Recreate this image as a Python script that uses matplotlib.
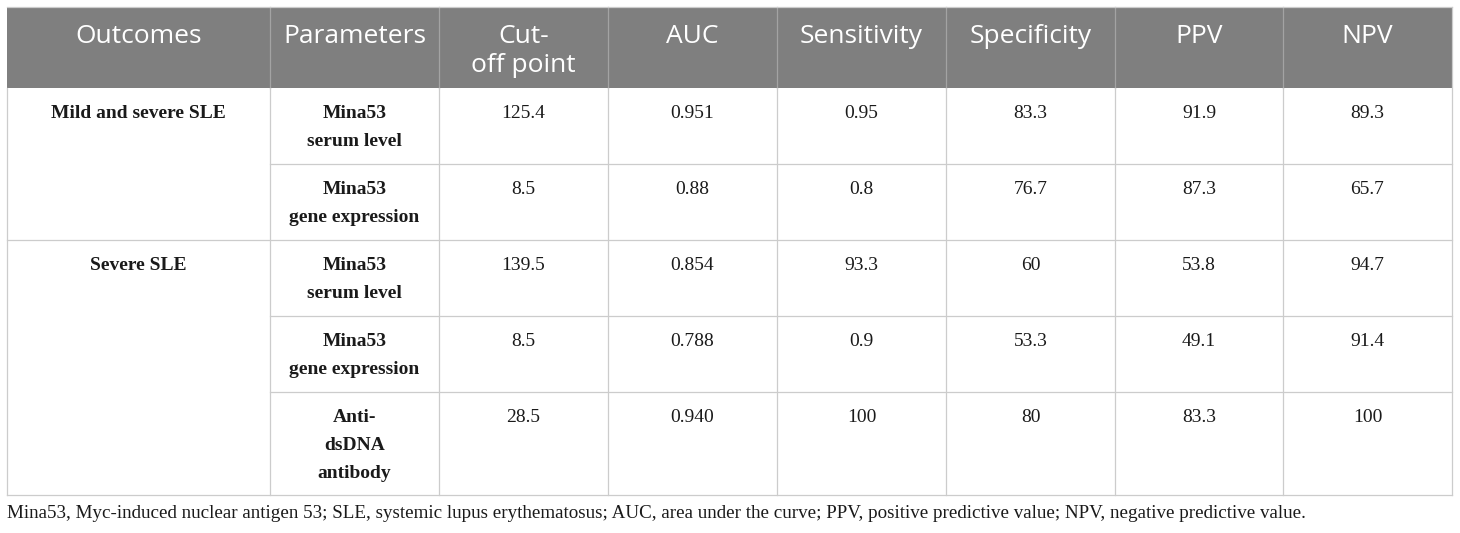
import matplotlib
matplotlib.use('Agg')
import matplotlib.pyplot as plt
from matplotlib.patches import Rectangle

# table content
headers = ['Outcomes', 'Parameters', 'Cut-\noff point', 'AUC', 'Sensitivity',
           'Specificity', 'PPV', 'NPV']
outcomes = ['Mild and severe SLE', 'Severe SLE']
outcome_rows = [(0, 2), (2, 5)]          # first row, end row of each group
parameters = ['Mina53\nserum level', 'Mina53\ngene expression',
              'Mina53\nserum level', 'Mina53\ngene expression',
              'Anti-\ndsDNA\nantibody']
cutoff = ['125.4', '8.5', '139.5', '8.5', '28.5']
auc = ['0.951', '0.88', '0.854', '0.788', '0.940']
sensitivity = ['0.95', '0.8', '93.3', '0.9', '100']
specificity = ['83.3', '76.7', '60', '53.3', '80']
ppv = ['91.9', '87.3', '53.8', '49.1', '83.3']
npv = ['89.3', '65.7', '94.7', '91.4', '100']
footnote = ('Mina53, Myc-induced nuclear antigen 53; SLE, systemic lupus erythematosus; '
            'AUC, area under the curve; PPV, positive predictive value; '
            'NPV, negative predictive value.')

# layout (pixels)
W, H = 1460, 533
col_edges = [7, 270, 439, 608, 777, 946, 1115, 1283, 1452]
row_edges = [7, 88, 164, 240, 316, 392, 495]
header_bg = '#7f7f7f'
line_col = '#cccccc'
sep_col = '#a3a3a3'
line_gap = 28

fig = plt.figure(figsize=(W / 100, H / 100), dpi=100)
ax = fig.add_axes([0, 0, 1, 1])
ax.set_xlim(0, W)
ax.set_ylim(H, 0)
ax.axis('off')


def put(x, top, txt, base, gap, **kw):
    for i, line in enumerate(txt.split('\n')):
        ax.text(x, top + base + i * gap, line, ha='center', va='baseline', **kw)


cx = [(col_edges[i] + col_edges[i + 1]) / 2 for i in range(len(col_edges) - 1)]

# header
ax.add_patch(Rectangle((col_edges[0], row_edges[0]), col_edges[-1] - col_edges[0],
                       row_edges[1] - row_edges[0], facecolor=header_bg,
                       edgecolor='none', zorder=1))
for x in col_edges[1:-1]:
    ax.plot([x, x], [row_edges[0], row_edges[1]], color=sep_col, lw=0.9, zorder=2)
ax.plot([col_edges[0], col_edges[-1]], [row_edges[0], row_edges[0]], color=line_col, lw=0.9, zorder=2)
for j, h in enumerate(headers):
    put(cx[j], row_edges[0], h, 36, 29, color='white', fontsize=19, family='Open Sans')

# body grid
ax.plot([col_edges[0], col_edges[0]], [row_edges[1], row_edges[-1]], color=line_col, lw=0.9)
ax.plot([col_edges[-1], col_edges[-1]], [row_edges[0], row_edges[-1]], color=line_col, lw=0.9)
for x in col_edges[1:-1]:
    ax.plot([x, x], [row_edges[1], row_edges[-1]], color=line_col, lw=0.9)
group_starts = [g[0] for g in outcome_rows]
for r in range(1, len(parameters)):
    x0 = col_edges[0] if r in group_starts else col_edges[1]
    y = row_edges[r + 1]
    ax.plot([x0, col_edges[-1]], [y, y], color=line_col, lw=0.9)
ax.plot([col_edges[0], col_edges[-1]], [row_edges[-1], row_edges[-1]], color=line_col, lw=0.9)

serif = 'Liberation Serif'
for g, (r0, r1) in enumerate(outcome_rows):
    put(cx[0], row_edges[r0 + 1], outcomes[g], 30, line_gap,
        fontsize=14, family=serif, fontweight='bold', color='#1a1a1a')

columns = [cutoff, auc, sensitivity, specificity, ppv, npv]
for r in range(len(parameters)):
    top = row_edges[r + 1]
    put(cx[1], top, parameters[r], 30, line_gap,
        fontsize=14, family=serif, fontweight='bold', color='#1a1a1a')
    for j, col in enumerate(columns):
        put(cx[j + 2], top, col[r], 30, line_gap,
            fontsize=14, family=serif, color='#1a1a1a')

ax.text(col_edges[0], 518, footnote, ha='left', va='baseline',
        fontsize=13.7, family=serif, color='#1a1a1a')

fig.savefig('out.png', dpi=100)
